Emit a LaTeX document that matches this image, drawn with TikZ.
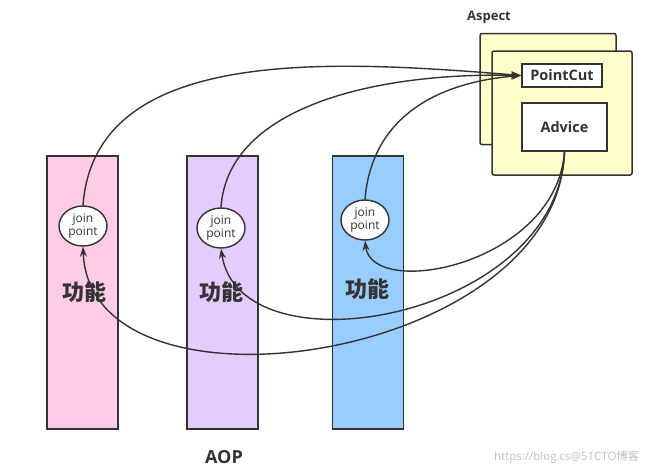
\documentclass[tikz,border=0pt]{standalone}
\usepackage{fontspec}
\setmainfont{Open Sans}
\newfontfamily\cjk{Noto Sans CJK SC}
\usetikzlibrary{arrows.meta,shapes.geometric}
\definecolor{lc}{HTML}{333333}
\definecolor{pinkc}{HTML}{FFCCE5}
\definecolor{purpc}{HTML}{E5CCFF}
\definecolor{bluec}{HTML}{99CCFF}
\definecolor{yelc}{HTML}{FFFFCC}
\tikzset{
  col/.style={draw=lc,line width=1.5pt,minimum width=71pt,minimum height=273pt,inner sep=0pt},
  jp/.style={ellipse,draw=lc,line width=1.4pt,fill=white,minimum width=48pt,minimum height=40pt,inner sep=0pt,align=center,font=\fontsize{12}{12.5}\selectfont,text=lc},
  gn/.style={font=\cjk\bfseries\fontsize{22}{23}\selectfont,text=lc},
  abox/.style={draw=lc,line width=1.5pt,fill=yelc,rounded corners=2pt,inner sep=0pt},
  wbox/.style={draw=lc,line width=1.5pt,fill=white,inner sep=0pt,font=\bfseries\fontsize{14.5}{15}\selectfont,text=lc},
  lbl/.style={font=\bfseries,text=lc},
  conn/.style={draw=lc,line width=1.4pt},
  tip/.style={-{Stealth[length=10pt,width=7pt]}}
}
\begin{document}
\begin{tikzpicture}[x=1pt,y=-1pt]
\useasboundingbox (0,0) rectangle (649,475);
% columns
\node[col,fill=pinkc] (c1) at (82.5,292.5) {};
\node[col,fill=purpc] (c2) at (222.5,292.5) {};
\node[col,fill=bluec] (c3) at (368,292.5) {};
% labels
\node[gn] (g1) at (84,292) {功能};
\node[gn] (g2) at (221,292) {功能};
\node[gn] (g3) at (367,289) {功能};
% join points
\node[jp] (j1) at (83,226) {join\\point};
\node[jp] (j2) at (221,228) {join\\point};
\node[jp] (j3) at (365,220) {join\\point};
% aspect
\node[lbl,font=\bfseries\fontsize{13}{14}\selectfont] (asp) at (489,17) {Aspect};
\node[abox,minimum width=136pt,minimum height=111pt] (back) at (548,89) {};
\node[abox,minimum width=140pt,minimum height=124pt] (front) at (562,113) {};
\node[wbox,minimum width=80pt,minimum height=23pt] (pc) at (562,75.5) {PointCut};
\node[wbox,minimum width=85pt,minimum height=48pt] (adv) at (564.5,127) {Advice};
% bottom label
\node[lbl,font=\bfseries\fontsize{18}{19}\selectfont] (aop) at (224,457) {AOP};
\node[text=black!25,font=\fontsize{11.5}{12}\selectfont,anchor=east] (wm) at (643,457) {https://blog.cs@51CTO\cjk 博客};
% connectors to PointCut
\draw[conn,tip] (j1.north) .. controls (95,45) and (330,60) .. (pc.west);
\draw[conn,tip] (j2.north) .. controls (228,105) and (380,72) .. (pc.west);
\draw[conn,tip] (j3.north) .. controls (372,115) and (440,82) .. (pc.west);
% connectors from Advice
\draw[conn,tip] (adv.south) .. controls (556,265) and (372,300) .. (j3.south);
\draw[conn,tip] (adv.south) .. controls (558,320) and (240,375) .. (j2.south);
\draw[conn,tip] (adv.south) .. controls (558,362) and (90,430) .. (j1.south);
\end{tikzpicture}
\end{document}
